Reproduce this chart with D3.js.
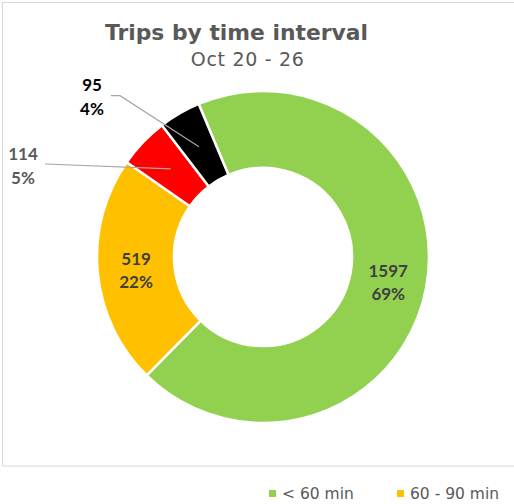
<!DOCTYPE html>
<html><head><meta charset="utf-8">
<script src="https://cdn.jsdelivr.net/npm/d3@7"></script>
<style>body{margin:0;background:#fff;overflow:hidden}</style>
</head><body>
<svg id="c" width="514" height="504"></svg>
<script>
const categories = ["< 60 min", "60 - 90 min", "90 - 120 min", "> 120 min"];
const values = [1597, 519, 114, 95];
const colors = ["#92D050", "#FFC000", "#FF0000", "#000000"];
const titleText = "Trips by time interval";
const subtitleText = "Oct 20 - 26";

const svg = d3.select("#c");
const W = 514, H = 504;

// frame
svg.append("rect").attr("x", 2.5).attr("y", 2.5).attr("width", 620).attr("height", 463.5)
  .attr("fill", "#fff").attr("stroke", "#d9d9d9").attr("stroke-width", 1);

// titles
svg.append("text").attr("x", 236.5).attr("y", 40).attr("text-anchor", "middle")
  .attr("font-family", "DejaVu Sans").attr("font-weight", "bold").attr("font-size", 22)
  .attr("fill", "#595959").attr("textLength", 263).attr("lengthAdjust", "spacingAndGlyphs")
  .text(titleText);
svg.append("text").attr("x", 247.3).attr("y", 66).attr("text-anchor", "middle")
  .attr("font-family", "DejaVu Sans").attr("font-size", 19)
  .attr("fill", "#595959").attr("textLength", 113).attr("lengthAdjust", "spacing")
  .text(subtitleText);

const cx = 263, cy = 257, R = 166, r = 89;
const total = d3.sum(values);
const start = -22.8 * Math.PI / 180;
const pie = d3.pie().sort(null).startAngle(start).endAngle(start + 2 * Math.PI);
const arcs = pie(values);
const arc = d3.arc().innerRadius(r).outerRadius(R);
const mid = d3.arc().innerRadius((r + R) / 2).outerRadius((r + R) / 2);

const g = svg.append("g").attr("transform", `translate(${cx},${cy})`);
g.selectAll("path").data(arcs).join("path")
  .attr("d", arc).attr("fill", (d, i) => colors[i])
  .attr("stroke", "#fff").attr("stroke-width", 2.5).attr("stroke-linejoin", "round");

const pct = v => Math.round(v / total * 100) + "%";
const labelFont = "Lato, 'Open Sans', sans-serif";

// inside labels for first two
arcs.slice(0, 2).forEach((d, i) => {
  const [x, y] = mid.centroid(d);
  const t = g.append("text").attr("text-anchor", "middle")
    .attr("font-family", labelFont).attr("font-weight", "bold").attr("font-size", 17)
    .attr("fill", "#404040");
  t.append("tspan").attr("x", x).attr("y", y - 4).text(values[i]);
  t.append("tspan").attr("x", x).attr("y", y + 19.5).text(pct(values[i]));
});

// outside labels (manually placed in the original)
const outside = [
  { idx: 2, lx: 23, ly: 160, color: "#595959", leader: [[45, 164]] },
  { idx: 3, lx: 92, ly: 91, color: "#000000", leader: [[111, 95.7], [120, 95.7]] }
];
outside.forEach(o => {
  const d = arcs[o.idx];
  const [x, y] = mid.centroid(d);
  const pts = o.leader.concat([[x + cx, y + cy]]);
  svg.append("path").attr("d", d3.line()(pts)).attr("fill", "none")
    .attr("stroke", "#a6a6a6").attr("stroke-width", 1.2);
  const t = svg.append("text").attr("text-anchor", "middle")
    .attr("font-family", labelFont).attr("font-weight", "bold").attr("font-size", 17)
    .attr("fill", o.color);
  t.append("tspan").attr("x", o.lx).attr("y", o.ly).text(values[o.idx]);
  t.append("tspan").attr("x", o.lx).attr("y", o.ly + 23.5).text(pct(values[o.idx]));
});

// legend (only the entries visible in the cropped original)
const lg = svg.append("g");
categories.slice(0, 2).forEach((c, i) => {
  const x0 = 269 + i * 128;
  lg.append("rect").attr("x", x0).attr("y", 490).attr("width", 7).attr("height", 7).attr("fill", colors[i]);
  lg.append("text").attr("x", x0 + 13).attr("y", 499)
    .attr("font-family", "DejaVu Sans").attr("font-size", 15.5).attr("fill", "#595959").text(c);
});
</script>
</body></html>
